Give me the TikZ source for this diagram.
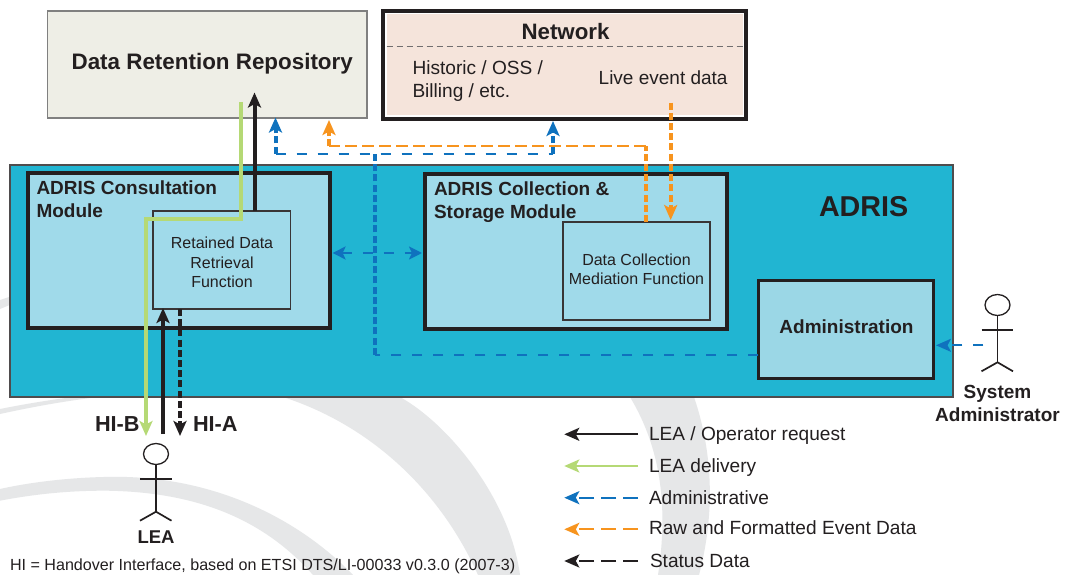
\documentclass[tikz,border=0pt]{standalone}
\usepackage{fontspec}
\setmainfont{Liberation Sans}
\usetikzlibrary{arrows.meta,shapes.geometric}
\definecolor{bandgrey}{HTML}{E6E7E8}
\definecolor{adrisblue}{HTML}{21B5D2}
\definecolor{lightblue}{HTML}{A0DAEA}
\definecolor{adminblue}{HTML}{9BD7E6}
\definecolor{repofill}{HTML}{EEEEE6}
\definecolor{netfill}{HTML}{F5E4DB}
\definecolor{ink}{HTML}{231F20}
\definecolor{lgreen}{HTML}{B5D975}
\definecolor{dblue}{HTML}{0F72BE}
\definecolor{dorange}{HTML}{F7941E}
\tikzset{
  boxbase/.style={rectangle,anchor=north west,inner sep=0pt,outer sep=0pt},
  repobox/.style={boxbase,draw=black!50,line width=1.2pt,fill=repofill},
  netbox/.style={boxbase,draw=ink,line width=3.2pt,fill=white},
  netinner/.style={boxbase,fill=netfill},
  adrisbox/.style={boxbase,draw=ink!80,line width=1.2pt,fill=adrisblue},
  modbox/.style={boxbase,draw=ink,line width=4pt,fill=lightblue},
  funcbox/.style={boxbase,draw=ink!90,line width=1.5pt,fill=lightblue},
  adminbox/.style={boxbase,draw=ink,line width=3pt,fill=adminblue},
  txt/.style={inner sep=0pt,outer sep=0pt,text=ink},
  tl/.style={txt,anchor=mid west},
  tc/.style={txt,anchor=mid},
  fr/.style={font=\fontsize{#1}{#1}\selectfont,yshift=-0.24*#1 pt},
  fb/.style={font=\fontsize{#1}{#1}\bfseries\selectfont,yshift=-0.24*#1 pt},
  bigtip/.style={-{Stealth[length=15pt,width=13pt,inset=3.5pt]}},
  smalltip/.style={-{Stealth[length=15pt,width=13pt,inset=3.5pt]}},
  thickline/.style={line width=4pt},
  stemdash/.style={line width=4pt,dash pattern=on 7pt off 3.2pt},
  longdash/.style={line width=2.2pt,dash pattern=on 10pt off 11pt},
  legdash/.style={line width=2.2pt,dash pattern=on 15pt off 7pt},
  legline/.style={line width=2.2pt},
  stick/.style={draw=ink,line width=1.7pt},
  headshape/.style={ellipse,draw=ink,line width=1.3pt,fill=white,minimum width=25pt,minimum height=21pt,inner sep=0pt,outer sep=0pt},
}
\begin{document}
\begin{tikzpicture}[x=1pt,y=-1pt]
\useasboundingbox[fill=white] (0,0) rectangle (1074,575);
% background bands
\fill[bandgrey] (0,409) .. controls (120,385) and (220,385) .. (400,397)
  .. controls (450,425) and (510,500) .. (520,575) -- (478,575)
  .. controls (440,490) and (370,425) .. (283,397)
  .. controls (190,385) and (100,392) .. (0,414) -- cycle;
\fill[bandgrey] (0,489) .. controls (40,480) and (90,476) .. (127,477)
  .. controls (220,480) and (300,520) .. (353,575) -- (313,575)
  .. controls (260,515) and (190,492) .. (107,490.7)
  .. controls (70,490.5) and (35,494) .. (0,500.7) -- cycle;
\fill[bandgrey] (694,397) .. controls (712,450) and (716,510) .. (699,575) -- (658,575)
  .. controls (668,510) and (662,450) .. (630,397) -- cycle;
\fill[bandgrey] (0,300) -- (12,296) -- (12,304) -- (0,309) -- cycle;
% boxes
\node[repobox,minimum width=319.5pt,minimum height=107pt] (repo) at (47.5,11) {};
\node[netbox,minimum width=363pt,minimum height=108pt] (net) at (383,11) {};
\node[netinner,minimum width=356pt,minimum height=101pt] (netin) at (386.5,14.5) {};
\draw[ink!65,line width=1pt,dash pattern=on 6pt off 4pt] (netin.west |- 0,47) -- (netin.east |- 0,47);
\node[adrisbox,minimum width=943pt,minimum height=232pt] (adris) at (10,165) {};
\node[modbox,minimum width=301.5pt,minimum height=155pt] (cons) at (28,173) {};
\node[modbox,minimum width=301.5pt,minimum height=155pt] (coll) at (425,174) {};
\node[funcbox,minimum width=137.5pt,minimum height=98pt] (ret) at (153,211) {};
\node[funcbox,minimum width=147pt,minimum height=98pt] (med) at (563,222) {};
\node[adminbox,minimum width=175.5pt,minimum height=98pt] (admin) at (758,280) {};
% free-end coordinates
\coordinate (gStart) at (241,102);
\coordinate (gTurnA) at (241,219);
\coordinate (gTurnB) at (146,219);
\coordinate (gEnd) at (146,436);
\coordinate (upTip) at (254.5,92.5);
\coordinate (reqStart) at (163,434);
\coordinate (reqTip) at (163,308);
\coordinate (hiaX) at (180,436);
\coordinate (bJoin) at (374.6,153.7);
\coordinate (bLow) at (374.6,354.7);
\coordinate (bLeft) at (275.5,153.7);
\coordinate (bLeftTip) at (275.5,117.5);
\coordinate (bRight) at (553,153.7);
\coordinate (bRightTip) at (553,121);
\coordinate (oLeft) at (329,146.3);
\coordinate (oLeftTip) at (329,120);
\coordinate (oRight) at (645.6,146.3);
\coordinate (liveStart) at (670.7,102.7);
\coordinate (liveTip) at (670.7,220);
\coordinate (dblL) at (332.6,253);
\coordinate (dblR) at (422,253);
\coordinate (sysStart) at (983.4,345.3);
\coordinate (sysTip) at (936,345.3);
% connectors
\draw[lgreen,thickline,line join=miter] (gStart) -- (gTurnA) -- (gTurnB) -- (gEnd|-0,425);
\draw[lgreen,thickline,bigtip] (gEnd|-0,420) -- (gEnd);
\draw[ink,thickline,bigtip] (ret.north -| upTip) -- (upTip);
\draw[ink,thickline,bigtip] (reqStart) -- (reqTip);
\draw[ink,stemdash,bigtip] (ret.south -| hiaX) -- (hiaX);
\draw[dblue,longdash] (admin.west |- bLow) -- (bLow);
\draw[dblue,stemdash] (bLow) -- (bJoin);
\draw[dblue,longdash] (bLeft) -- (bRight);
\draw[dblue,stemdash,smalltip] (bLeft) -- (bLeftTip);
\draw[dblue,stemdash,smalltip] (bRight) -- (bRightTip);
\draw[dorange,line width=2.2pt,dash pattern=on 12pt off 5pt] (oRight) -- (oLeft);
\draw[dorange,stemdash,smalltip] (oLeft) -- (oLeftTip);
\draw[dorange,stemdash] (med.north -| oRight) -- (oRight);
\draw[dorange,stemdash,smalltip] (liveStart) -- (liveTip);
\draw[dblue,longdash,{Stealth[length=13pt,width=13pt,inset=3pt]}-{Stealth[length=13pt,width=13pt,inset=3pt]}] (dblL) -- (dblR);
\draw[dblue,longdash,smalltip] (sysStart) -- (sysTip);
% stick figures
\node[headshape] (leaHead) at (156,454) {};
\draw[stick] (leaHead.south) -- (156,511.7) coordinate (leaHip);
\draw[stick] (140,479) -- (171.5,479);
\draw[stick] (140,520.7) -- (leaHip) -- (171.5,520.7);
\node[headshape] (sysHead) at (997.5,305) {};
\draw[stick] (sysHead.south) -- (997.5,362.3) coordinate (sysHip);
\draw[stick] (981.5,329.7) -- (1013,329.7);
\draw[stick] (981.5,371.3) -- (sysHip) -- (1013,371.3);
% texts
\node[tl,fb=22.4] (tRepo) at (71.6,61) {Data Retention Repository};
\node[tc,fb=22.3] (tNet) at (565.5,32) {Network};
\node[tl,fr=19.1] (tHist) at (412.5,67.7) {Historic / OSS /};
\node[tl,fr=19.1] (tBill) at (412.5,90.7) {Billing / etc.};
\node[tl,fr=19] (tLive) at (598.7,77.7) {Live event data};
\node[tl,fb=19] (tCons1) at (36.5,187.7) {ADRIS Consultation};
\node[tl,fb=19] (tCons2) at (36.5,210.7) {Module};
\node[tl,fb=19] (tColl1) at (434,188.7) {ADRIS Collection \&};
\node[tl,fb=19] (tColl2) at (434,211.7) {Storage Module};
\node[tl,fb=28.7] (tAdris) at (819,207) {ADRIS};
\node[tc,fr=16] (tRet1) at (222,242.3) {Retained Data};
\node[tc,fr=16] (tRet2) at (222,261.7) {Retrieval};
\node[tc,fr=16] (tRet3) at (222,280.7) {Function};
\node[tc,fr=16] (tMed1) at (636.5,259.3) {Data Collection};
\node[tc,fr=16] (tMed2) at (636.5,278.3) {Mediation Function};
\node[tc,fb=19] (tAdmin) at (846.5,326.7) {Administration};
\node[tl,fb=21.7] (tHiB) at (95,424) {HI-B};
\node[tl,fb=21.7] (tHiA) at (193,424) {HI-A};
\node[tc,fb=18.5] (tLea) at (156,536.7) {LEA};
\node[tc,fb=19] (tSys1) at (997.5,391.7) {System};
\node[tc,fb=19] (tSys2) at (997.5,414.3) {Administrator};
\node[tl,fr=16.1] (tFoot) at (10,564) {HI = Handover Interface, based on ETSI DTS/LI-00033 v0.3.0 (2007-3)};
% legend
\node[tl,fr=19.1] (l1) at (649,433) {LEA / Operator request};
\node[tl,fr=19.1] (l2) at (649,465) {LEA delivery};
\node[tl,fr=19.1] (l3) at (649,497) {Administrative};
\node[tl,fr=19.1] (l4) at (649,527) {Raw and Formatted Event Data};
\node[tl,fr=19.1] (l5) at (650,560) {Status Data};
\coordinate (a1) at (638,434.3); \coordinate (b1) at (564.3,434.3);
\coordinate (a2) at (638,466); \coordinate (b2) at (564.3,466);
\coordinate (a3) at (638,497.7); \coordinate (b3) at (564.3,497.7);
\coordinate (a4) at (638,529.3); \coordinate (b4) at (564.3,529.3);
\coordinate (a5) at (638,561); \coordinate (b5) at (564.3,561);
\draw[ink,legline,smalltip] (a1) -- (b1);
\draw[lgreen,legline,smalltip] (a2) -- (b2);
\draw[dblue,legdash,smalltip] (a3) -- (b3);
\draw[dorange,legdash,smalltip] (a4) -- (b4);
\draw[ink,legdash,smalltip] (a5) -- (b5);
\end{tikzpicture}
\end{document}
